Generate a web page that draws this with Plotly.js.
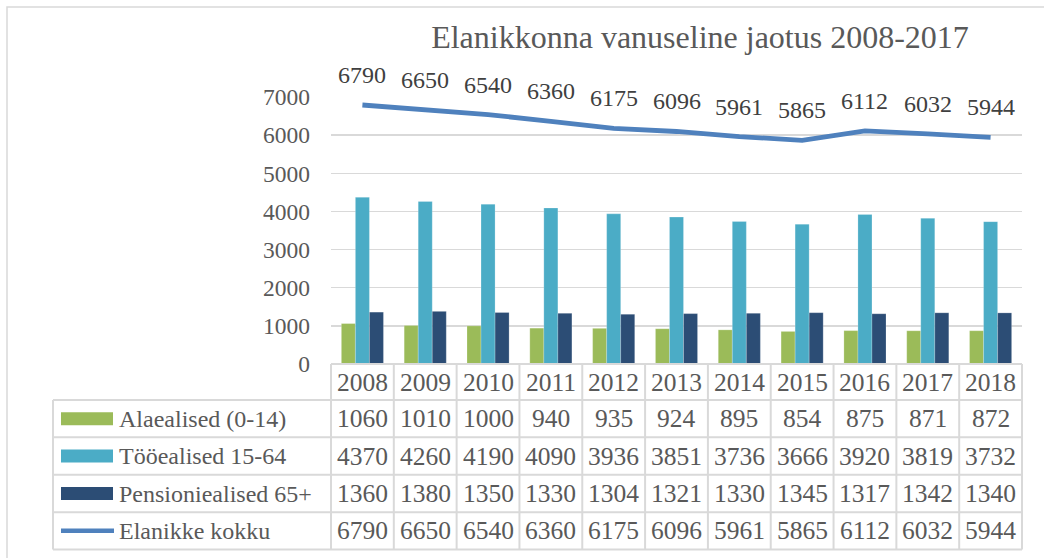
<!DOCTYPE html>
<html>
<head>
<meta charset="utf-8">
<script src="https://cdn.plot.ly/plotly-3.0.1.min.js"></script>
<style>html,body{margin:0;padding:0;background:#fff;}#chart{width:1044px;height:558px;}</style>
</head>
<body>
<div id="chart"></div>
<script>
const years = ['2008','2009','2010','2011','2012','2013','2014','2015','2016','2017','2018'];
const alaealised = [1060,1010,1000,940,935,924,895,854,875,871,872];
const tooealised = [4370,4260,4190,4090,3936,3851,3736,3666,3920,3819,3732];
const pensioniealised = [1360,1380,1350,1330,1304,1321,1330,1345,1317,1342,1340];
const kokku = [6790,6650,6540,6360,6175,6096,5961,5865,6112,6032,5944];
const seriesNames = ['Alaealised (0-14)','Tööealised 15-64','Pensioniealised 65+','Elanikke kokku'];
const titleText = 'Elanikkonna vanuseline jaotus 2008-2017';
const yTicks = [0,1000,2000,3000,4000,5000,6000,7000];

const colors = ['#9BBB59','#4BACC6','#2C4D75','#4F81BD'];
const textColor = '#595959';
const gridColor = '#D9D9D9';
const font = '"Liberation Serif", "Times New Roman", serif';

// pixel geometry
const W = 1044, H = 558;
const L = 331, R = 1022, T = 97, B = 364;
const px = x => (x - L) / (R - L);
const py = y => (B - y) / (B - T);

const tableRows = [alaealised, tooealised, pensioniealised, kokku];
const rowEdges = [364, 400, 437.3, 474.8, 512.2, 549.5];
const legendLeft = 53;
const colW = (R - L) / years.length;

const traces = [
  {type:'bar', name:seriesNames[0], x:years, y:alaealised, marker:{color:colors[0], line:{color:'rgba(255,255,255,0.35)', width:0.6}}},
  {type:'bar', name:seriesNames[1], x:years, y:tooealised, marker:{color:colors[1], line:{color:'rgba(255,255,255,0.35)', width:0.6}}},
  {type:'bar', name:seriesNames[2], x:years, y:pensioniealised, marker:{color:colors[2], line:{color:'rgba(255,255,255,0.35)', width:0.6}}},
  {type:'scatter', mode:'lines', name:seriesNames[3], x:years, y:kokku, line:{color:colors[3], width:4.8}}
];

const shapes = [];
const annotations = [];

// outer frame
shapes.push({type:'rect', xref:'paper', yref:'paper', x0:px(7), x1:px(1060), y0:py(575), y1:py(7), line:{color:gridColor, width:1.5}, layer:'below'});

// table horizontal lines
shapes.push({type:'line', xref:'paper', yref:'paper', x0:0, x1:1, y0:py(rowEdges[0]), y1:py(rowEdges[0]), line:{color:gridColor, width:2}});
for (let i = 1; i < rowEdges.length; i++) {
  shapes.push({type:'line', xref:'paper', yref:'paper', x0:px(legendLeft), x1:1, y0:py(rowEdges[i]), y1:py(rowEdges[i]), line:{color:gridColor, width:2}});
}
// table vertical lines
for (let k = 0; k <= years.length; k++) {
  const xx = L + k * colW;
  shapes.push({type:'line', xref:'paper', yref:'paper', x0:px(xx), x1:px(xx), y0:py(rowEdges[0]), y1:py(rowEdges[5]), line:{color:gridColor, width:2}});
}
shapes.push({type:'line', xref:'paper', yref:'paper', x0:px(legendLeft), x1:px(legendLeft), y0:py(rowEdges[1]), y1:py(rowEdges[5]), line:{color:gridColor, width:2}});

// header years (category index positions)
years.forEach((yr, i) => {
  annotations.push({xref:'x', yref:'paper', x:i, y:py((rowEdges[0]+rowEdges[1])/2), text:yr, showarrow:false, xanchor:'center', yanchor:'middle', font:{family:font, size:25.5, color:textColor}});
});
// rows
tableRows.forEach((row, r) => {
  const ycPx = (rowEdges[r+1] + rowEdges[r+2]) / 2;
  const yc = py(ycPx);
  row.forEach((v, i) => {
    annotations.push({xref:'x', yref:'paper', x:i, y:yc, text:String(v), showarrow:false, xanchor:'center', yanchor:'middle', font:{family:font, size:25.5, color:textColor}});
  });
  annotations.push({xref:'paper', yref:'paper', x:px(117), y:yc, text:seriesNames[r], showarrow:false, xanchor:'left', yanchor:'middle', font:{family:font, size:24, color:textColor}});
  if (r < 3) {
    shapes.push({type:'rect', xref:'paper', yref:'paper', x0:px(61), x1:px(113), y0:py(ycPx+6.5), y1:py(ycPx-6.5), fillcolor:colors[r], line:{width:0}});
  } else {
    shapes.push({type:'line', xref:'paper', yref:'paper', x0:px(61), x1:px(114), y0:py(ycPx), y1:py(ycPx), line:{color:colors[r], width:4.5}});
  }
});

// line data labels
kokku.forEach((v, i) => {
  annotations.push({xref:'x', yref:'y', x:i, y:v, text:String(v), showarrow:false, xanchor:'center', yanchor:'middle', yshift:30, font:{family:font, size:24, color:'#404040'}});
});

const layout = {
  width:W, height:H,
  margin:{l:L, r:W-R, t:T, b:H-B, pad:0},
  paper_bgcolor:'#ffffff', plot_bgcolor:'#ffffff',
  showlegend:false,
  barmode:'group', bargap:0.33, bargroupgap:0,
  title:{text:titleText, xref:'container', yref:'container', x:700/W, xanchor:'center', y:1-37/H, yanchor:'middle', font:{family:font, size:32, color:textColor}},
  xaxis:{type:'category', range:[-0.5, years.length-0.5], autorange:false, showticklabels:false, showgrid:false, zeroline:false, showline:false, ticks:''},
  yaxis:{range:[0,7000], autorange:false, tickvals:yTicks, ticktext:yTicks.map(String), showgrid:true, gridcolor:gridColor, gridwidth:1.5, zeroline:false, showline:false, ticks:'', ticklabelstandoff:20, tickfont:{family:font, size:23.5, color:textColor}},
  shapes:shapes,
  annotations:annotations
};

Plotly.newPlot('chart', traces, layout, {displayModeBar:false, staticPlot:true});
</script>
</body>
</html>
